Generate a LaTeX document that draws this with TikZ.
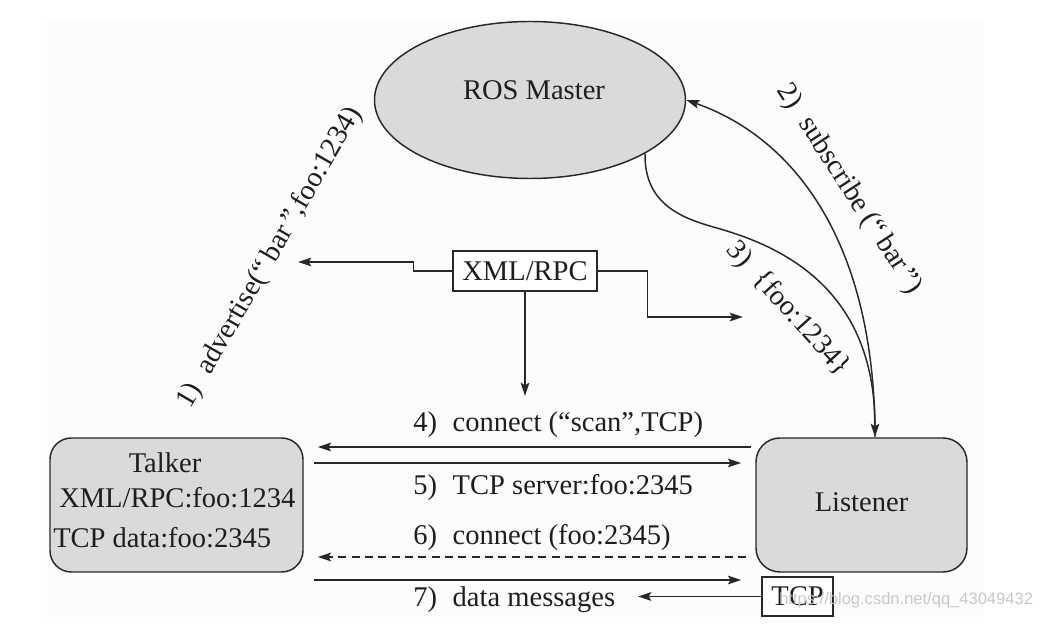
\documentclass[tikz,border=0pt]{standalone}
\usepackage{fontspec}
\setmainfont{Liberation Serif}
\newfontfamily\wmfont{Liberation Sans}
\usetikzlibrary{arrows.meta,shapes.geometric}
\definecolor{boxfill}{RGB}{218,218,218}
\definecolor{edge}{RGB}{40,40,40}
\definecolor{bgpaper}{RGB}{252,252,252}
\definecolor{wm}{RGB}{200,200,200}
\definecolor{ink}{RGB}{30,30,30}
\begin{document}
\begin{tikzpicture}[x=0.75pt,y=-0.75pt,
  txt/.style={font=\fontsize{21.4}{25}\selectfont, text=ink, inner sep=0pt},
  box/.style={draw=edge, fill=boxfill, line width=1.1pt},
  plainbox/.style={draw=edge, fill=white, line width=1.1pt, inner sep=0pt, font=\fontsize{21.4}{25}\selectfont, text=ink},
  arr/.style={draw=edge, line width=1.1pt, -{Stealth[length=10pt,width=6.5pt,inset=2pt]}},
  dasharr/.style={arr, dash pattern=on 6pt off 4pt}]
\useasboundingbox (0,0) rectangle (1040,634);
\fill[bgpaper] (47,20) rectangle (983,617);

% main nodes
\node[box, ellipse, minimum width=233.25pt, minimum height=117.75pt, inner sep=0pt] (master) at (530,100) {};
\node[txt, anchor=base] (mastertxt) at (534,100) {ROS Master};

\node[box, rounded corners=16pt, minimum width=189.75pt, minimum height=100.5pt] (talker) at (176.5,505) {};
\node[txt, anchor=base] (talkername) at (165,473) {Talker};
\node[txt, anchor=base west] (talkerxml) at (59,508) {XML/RPC:foo:1234};
\node[txt, anchor=base west] (talkertcp) at (53,548) {TCP data:foo:2345};

\node[box, rounded corners=18pt, minimum width=158.25pt, minimum height=100.5pt] (listener) at (861.5,505) {};
\node[txt, anchor=base] (listenertxt) at (861.5,512) {Listener};

\node[plainbox, minimum width=108pt, minimum height=30pt] (xml) at (525,271) {XML/RPC};
\node[plainbox, minimum width=53.25pt, minimum height=29.25pt] (tcp) at (797.5,596.5) {TCP};

% free ends
\coordinate (advTip) at (298,262);
\coordinate (fooTip) at (743,317);
\coordinate (downTip) at (525,396);
\coordinate (lin) at (875,437);
\coordinate (dmTip) at (638,596.5);

% XML/RPC connectors
\draw[arr] (xml.west) -- ++(-39,0) -- ++(0,-9) -- (advTip);
\draw[arr] (xml.east) -- ++(50,0) |- (fooTip);
\draw[arr] (xml.south) -- (downTip);

% curves to/from master
\draw[arr] (lin) .. controls (875,250) and (800,140) .. (master.east);
\draw[arr] (master.335) .. controls (644,215) and (700,222) .. (730,232)
            .. controls (825,262) and (875,325) .. (lin);

% talker <-> listener
\draw[arr, shorten <=3pt, shorten >=10.5pt] (listener.west |- 0,447) -- (talker.east |- 0,447);
\draw[arr, shorten <=7.5pt, shorten >=10.5pt] (talker.east |- 0,463) -- (listener.west |- 0,463);
\draw[dasharr, shorten <=6.75pt, shorten >=10.5pt] (listener.west |- 0,557) -- (talker.east |- 0,557);
\draw[arr, shorten <=7.5pt, shorten >=10.5pt] (talker.east |- 0,580) -- (listener.west |- 0,580);
\draw[arr] (tcp.west) -- (dmTip);

% labels
\node[txt, rotate=60] (l1) at (270,258) {1)\hspace{0.55em}advertise(“\,bar\,”,foo:1234)};
\node[txt, rotate=-57] (l2) at (849,189) {2)\hspace{0.55em}subscribe (“\,bar\,”)};
\node[txt, rotate=-48] (l3) at (788,309) {3)\hspace{0.55em}\{foo:1234\}};
\node[txt, anchor=base west] (l4) at (413,432) {4)\hspace{0.55em}connect (“scan”,TCP)};
\node[txt, anchor=base west] (l5) at (413,495) {5)\hspace{0.55em}TCP server:foo:2345};
\node[txt, anchor=base west] (l6) at (413,545) {6)\hspace{0.55em}connect (foo:2345)};
\node[txt, anchor=base west] (l7) at (413,607) {7)\hspace{0.55em}data messages};

% watermark
\node[font=\wmfont\fontsize{12.4}{14}\selectfont, text=wm, anchor=base west, inner sep=0pt] (wmark) at (779,605) {https://blog.csdn.net/qq\_43049432};
\end{tikzpicture}
\end{document}
